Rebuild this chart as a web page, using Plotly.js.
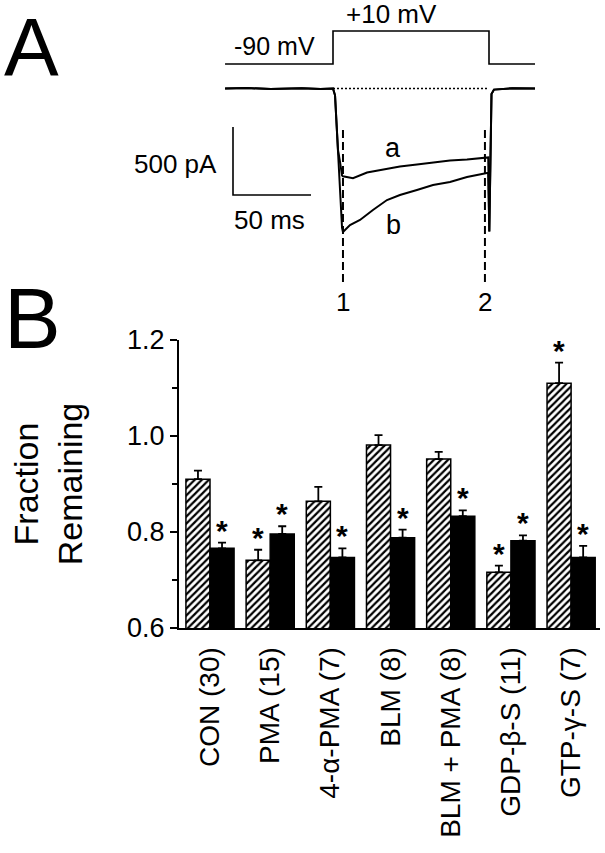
<!DOCTYPE html>
<html>
<head>
<meta charset="utf-8">
<script src="https://cdn.plot.ly/plotly-3.0.1.min.js"></script>
<style>html,body{margin:0;padding:0;background:#fff;}#chart{width:605px;height:853px;}</style>
</head>
<body>
<div id="chart"></div>
<script>
// ---------------- DATA ----------------
// Panel B: fraction of current remaining
const categories = ['CON (30)', 'PMA (15)', '4-α-PMA (7)', 'BLM (8)', 'BLM + PMA (8)', 'GDP-β-S (11)', 'GTP-γ-S (7)'];
const hatchedValues = [0.910, 0.741, 0.864, 0.981, 0.952, 0.716, 1.110];
const hatchedErrors = [0.018, 0.022, 0.030, 0.021, 0.015, 0.014, 0.043];
const solidValues   = [0.766, 0.796, 0.747, 0.788, 0.833, 0.782, 0.747];
const solidErrors   = [0.012, 0.016, 0.019, 0.017, 0.012, 0.011, 0.024];
const hatchedSignificant = [false, true, false, false, false, true, true];
const solidSignificant   = [true, true, true, true, true, true, true];
const yTickValues = [0.6, 0.8, 1.0, 1.2];

// Panel A: voltage protocol (ms, mV)
const protocolTime    = [-69.2, 0, 0, 100, 100, 129.5];
const protocolVoltage = [-90, -90, 10, 10, -90, -90];
// Panel A: current traces (ms, pA)
const traceATime    = [-69.2, -55, -40, -20, -8, 0, 1.3, 3.2, 4.5, 5.8, 6.4, 10.9, 12.8, 21.8, 32.1, 42.9, 53.8, 64.1, 75.0, 85.9, 98.7, 99.5, 100.2, 100.9, 101.6, 103.2, 115, 129.5];
const traceACurrent = [0, 3, -4, 2, -3, 0, -50, -452, -540, -640, -645, -655, -660, -618, -596, -574, -559, -544, -529, -522, -507, -507, -1051, -300, -40, -8, 2, 0];
const traceBTime    = [-69.2, -55, -40, -20, -8, 0, 1.3, 3.2, 4.5, 5.8, 6.4, 10.9, 17.3, 25.6, 34.6, 42.9, 53.8, 64.1, 75.0, 85.9, 98.7, 99.5, 100.2, 100.9, 101.6, 103.2, 115, 129.5];
const traceBCurrent = [0, 3, -4, 2, -3, 0, -50, -452, -819, -1025, -1055, -1004, -967, -893, -820, -783, -746, -710, -688, -651, -621, -621, -1051, -300, -40, -8, 2, 0];
const zeroLineTime = [0, 100];
const measureTimes = [6.4, 97.4];          // cursors 1 and 2
const measureLabels = ['1', '2'];
const scaleBarTime = 50;                   // ms
const scaleBarCurrent = 500;               // pA

// ---------------- LAYOUT CALIBRATION (pixels) ----------------
const W = 605, H = 853;
const T0_PX = 333, PX_PER_MS = 1.56;
const I0_PY = 88.5, PX_PER_PA = 0.136;
const VREF_PY = 64, PX_PER_MV = 0.33;
const A_BOTTOM_PY = 320;
const px = x => x / W;
const py = y => 1 - y / H;
const tAt = x => (x - T0_PX) / PX_PER_MS;
const iAt = y => (I0_PY - y) / PX_PER_PA;
const vAt = y => -90 + (VREF_PY - y) / PX_PER_MV;

const FONT = 'Arial, "Liberation Sans", Helvetica, sans-serif';
const BLACK = '#000';

// scale bar corner (ms, pA)
const sbT0 = tAt(233), sbI0 = iAt(195);

const traces = [
  // Panel B bars
  {
    type: 'bar', x: categories.map((c, i) => i), y: hatchedValues, name: 'hatched',
    marker: {color: '#fff', line: {color: BLACK, width: 1.5},
             pattern: {shape: '/', fgcolor: BLACK, bgcolor: '#fff', size: 5, solidity: 0.45}},
    error_y: {type: 'data', symmetric: false, array: hatchedErrors, arrayminus: hatchedErrors.map(() => 0),
              color: BLACK, thickness: 1.8, width: 4},
    xaxis: 'x', yaxis: 'y', showlegend: false, hoverinfo: 'skip'
  },
  {
    type: 'bar', x: categories.map((c, i) => i), y: solidValues, name: 'solid',
    marker: {color: BLACK, line: {color: BLACK, width: 1.5}},
    error_y: {type: 'data', symmetric: false, array: solidErrors, arrayminus: solidErrors.map(() => 0),
              color: BLACK, thickness: 1.8, width: 4},
    xaxis: 'x', yaxis: 'y', showlegend: false, hoverinfo: 'skip'
  },
  // Panel A: protocol
  {type: 'scatter', mode: 'lines', x: protocolTime, y: protocolVoltage, xaxis: 'x2', yaxis: 'y3',
   line: {color: BLACK, width: 1.6, shape: 'linear'}, showlegend: false, hoverinfo: 'skip'},
  // zero-current dotted line
  {type: 'scatter', mode: 'lines', x: zeroLineTime, y: [0, 0], xaxis: 'x2', yaxis: 'y2',
   line: {color: BLACK, width: 1.5, dash: '2px,2px'}, showlegend: false, hoverinfo: 'skip'},
  // current traces
  {type: 'scatter', mode: 'lines', x: traceATime, y: traceACurrent, xaxis: 'x2', yaxis: 'y2',
   line: {color: BLACK, width: 2}, showlegend: false, hoverinfo: 'skip'},
  {type: 'scatter', mode: 'lines', x: traceBTime, y: traceBCurrent, xaxis: 'x2', yaxis: 'y2',
   line: {color: BLACK, width: 2}, showlegend: false, hoverinfo: 'skip'},
  // scale bar
  {type: 'scatter', mode: 'lines', x: [sbT0, sbT0, sbT0 + scaleBarTime], y: [sbI0 + scaleBarCurrent, sbI0, sbI0],
   xaxis: 'x2', yaxis: 'y2', line: {color: BLACK, width: 1.6}, showlegend: false, hoverinfo: 'skip'}
];
// measurement cursors
measureTimes.forEach(t => traces.push({
  type: 'scatter', mode: 'lines', x: [t, t], y: [iAt(130), iAt(283)], xaxis: 'x2', yaxis: 'y2',
  line: {color: BLACK, width: 2, dash: '8px,4px'}, showlegend: false, hoverinfo: 'skip'
}));

const annotations = [];
const txt = (text, x, y, size, xanchor, extra) => Object.assign({
  text, x: px(x), y: py(y), xref: 'paper', yref: 'paper', showarrow: false,
  xanchor: xanchor || 'center', yanchor: 'middle', font: {family: FONT, size, color: BLACK}
}, extra || {});
annotations.push(txt('A', 31, 0, 82, 'center', {yanchor: 'top', y: 1, borderpad: 0}));
annotations.push(txt('B', 32, 318, 85));
annotations.push(txt('-90 mV', 232, 46, 25, 'left'));
annotations.push(txt('+10 mV', 344, 14, 26, 'left'));
annotations.push(txt('500 pA', 219, 164, 26, 'right'));
annotations.push(txt('50 ms', 232, 220, 26, 'left'));
annotations.push(txt('a', 393, 148, 27));
annotations.push(txt('b', 393, 225, 27));
measureTimes.forEach((t, k) => annotations.push({
  text: measureLabels[k], x: t, xref: 'x2', y: py(302), yref: 'paper', showarrow: false,
  xanchor: 'center', yanchor: 'middle', font: {family: FONT, size: 26, color: BLACK}
}));
// significance asterisks
const addStars = (flags, vals, errs, dx) => flags.forEach((f, i) => {
  if (!f) return;
  annotations.push({
    text: '<b>*</b>', x: i + dx, y: vals[i] + errs[i], xref: 'x', yref: 'y', showarrow: false,
    xanchor: 'center', yanchor: 'bottom', yshift: -6,
    font: {family: FONT, size: 30, color: BLACK}
  });
});
addStars(hatchedSignificant, hatchedValues, hatchedErrors, -0.2);
addStars(solidSignificant, solidValues, solidErrors, 0.2);

const layout = {
  width: W, height: H,
  margin: {l: 0, r: 0, t: 0, b: 0, pad: 0},
  paper_bgcolor: '#fff', plot_bgcolor: 'rgba(0,0,0,0)',
  font: {family: FONT, color: BLACK},
  barmode: 'group', bargap: 0.2, bargroupgap: 0,
  showlegend: false,
  xaxis: {
    domain: [px(179), px(600)], range: [-0.515, 6.48], anchor: 'y',
    tickmode: 'array', tickvals: categories.map((c, i) => i), ticktext: categories,
    tickangle: -90, ticks: '', showgrid: false, zeroline: false,
    showline: true, linecolor: BLACK, linewidth: 2,
    tickfont: {family: FONT, size: 28, color: BLACK}, ticklabelstandoff: 6,
    fixedrange: true
  },
  yaxis: {
    domain: [py(628), py(340)], range: [0.6, 1.2], anchor: 'x',
    tickmode: 'array', tickvals: yTickValues, tickformat: '.1f',
    ticks: 'outside', ticklen: 7, tickwidth: 2, tickcolor: BLACK,
    minor: {dtick: 0.1, tick0: 0.6, ticks: 'outside', ticklen: 5, tickwidth: 2, tickcolor: BLACK, showgrid: false},
    showgrid: false, zeroline: false, showline: true, linecolor: BLACK, linewidth: 2,
    tickfont: {family: FONT, size: 27, color: BLACK},
    title: {text: 'Fraction<br>Remaining', font: {family: FONT, size: 34, color: BLACK}, standoff: 34},
    fixedrange: true
  },
  xaxis2: {domain: [0, 1], range: [tAt(0), tAt(W)], anchor: 'y2', visible: false, fixedrange: true},
  yaxis2: {domain: [py(A_BOTTOM_PY), 1], range: [iAt(A_BOTTOM_PY), iAt(0)], anchor: 'x2', visible: false, fixedrange: true},
  yaxis3: {domain: [py(A_BOTTOM_PY), 1], range: [vAt(A_BOTTOM_PY), vAt(0)], overlaying: 'y2', anchor: 'x2', visible: false, fixedrange: true},
  annotations
};

Plotly.newPlot('chart', traces, layout, {staticPlot: true, displayModeBar: false});
</script>
</body>
</html>
